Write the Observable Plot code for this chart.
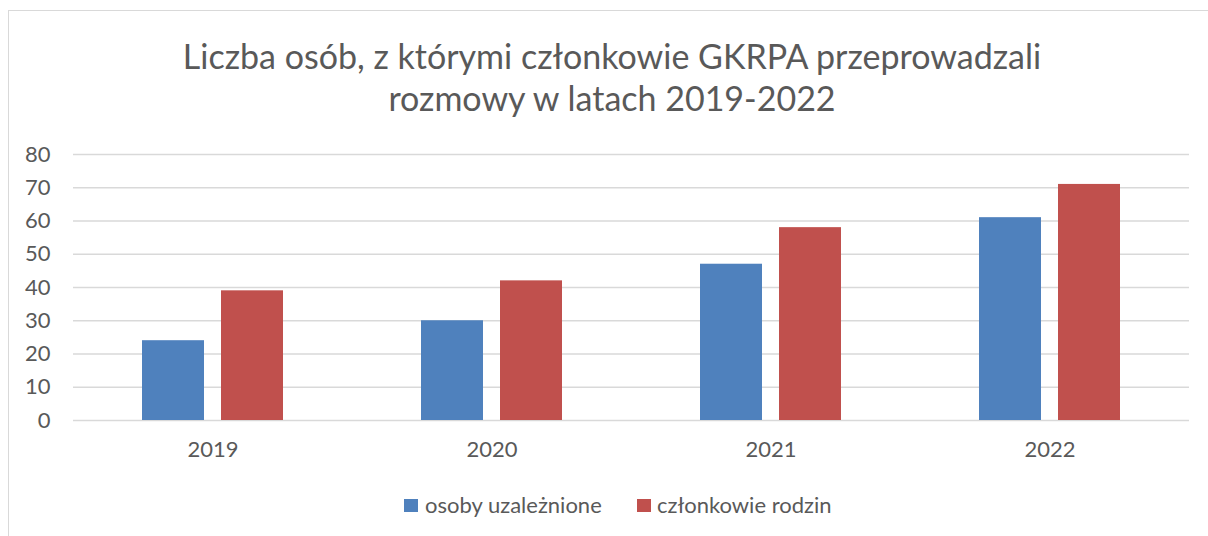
<!DOCTYPE html>
<html><head><meta charset="utf-8">
<script src="https://cdn.jsdelivr.net/npm/d3@7"></script>
<script src="https://cdn.jsdelivr.net/npm/@observablehq/plot@0.6"></script>
<style>
body{margin:0;background:#fff;font-family:Lato,sans-serif;}
#wrap{position:relative;width:1208px;height:536px;overflow:hidden;background:#fff;}
#frame{position:absolute;left:8px;top:10px;width:1300px;height:600px;border-left:1.5px solid #d9d9d9;border-top:1.5px solid #d9d9d9;}
#title{position:absolute;left:0;width:1224px;top:35px;text-align:center;font-size:34px;line-height:42px;color:#595959;}
#chart{position:absolute;left:0;top:130px;}
.lg{position:absolute;top:491px;font-size:22px;color:#595959;line-height:28px;white-space:nowrap;}
.sw{position:absolute;width:14px;height:13px;top:499px;}
</style></head>
<body><div id="wrap"><div id="frame"></div>
<div id="title">Liczba osób, z którymi członkowie GKRPA przeprowadzali<br>rozmowy w latach 2019-2022</div>
<div id="chart"></div>
<div class="sw" style="left:404px;background:#4f81bd"></div><div class="lg" id="l1" style="left:425px"></div>
<div class="sw" style="left:637px;background:#c0504d"></div><div class="lg" id="l2" style="left:657px"></div>
</div>
<script>
const years = ["2019","2020","2021","2022"];
const series = ["osoby uzależnione","członkowie rodzin"];
const uzaleznione = [24,30,47,61];
const rodziny = [39,42,58,71];
const yTicks = [0,10,20,30,40,50,60,70,80];
const colors = ["#4f81bd","#c0504d"];

const data = years.flatMap((y,i)=>[
  {year:y, series:series[0], value:uzaleznione[i]},
  {year:y, series:series[1], value:rodziny[i]}
]);
document.getElementById("l1").textContent = series[0];
document.getElementById("l2").textContent = series[1];

const chart = Plot.plot({
  width:1208, height:350,
  marginLeft:73, marginRight:19, marginTop:24, marginBottom:60,
  style:{fontFamily:"Lato, sans-serif", fontSize:"22px", color:"#595959", background:"transparent"},
  fx:{domain:years, padding:0, label:null, axis:"bottom", tickSize:0, tickPadding:21},
  x:{domain:series, paddingInner:0.22, paddingOuter:0.86, axis:null},
  y:{domain:[0,80], ticks:yTicks, tickSize:0, tickPadding:23, label:null},
  color:{domain:series, range:colors},
  marks:[
    Plot.ruleY(yTicks, {stroke:"#d9d9d9", strokeWidth:1.5}),
    Plot.barY(data, {fx:"year", x:"series", y:"value", fill:"series"})
  ]
});
document.getElementById("chart").appendChild(chart);
</script>
</body></html>
